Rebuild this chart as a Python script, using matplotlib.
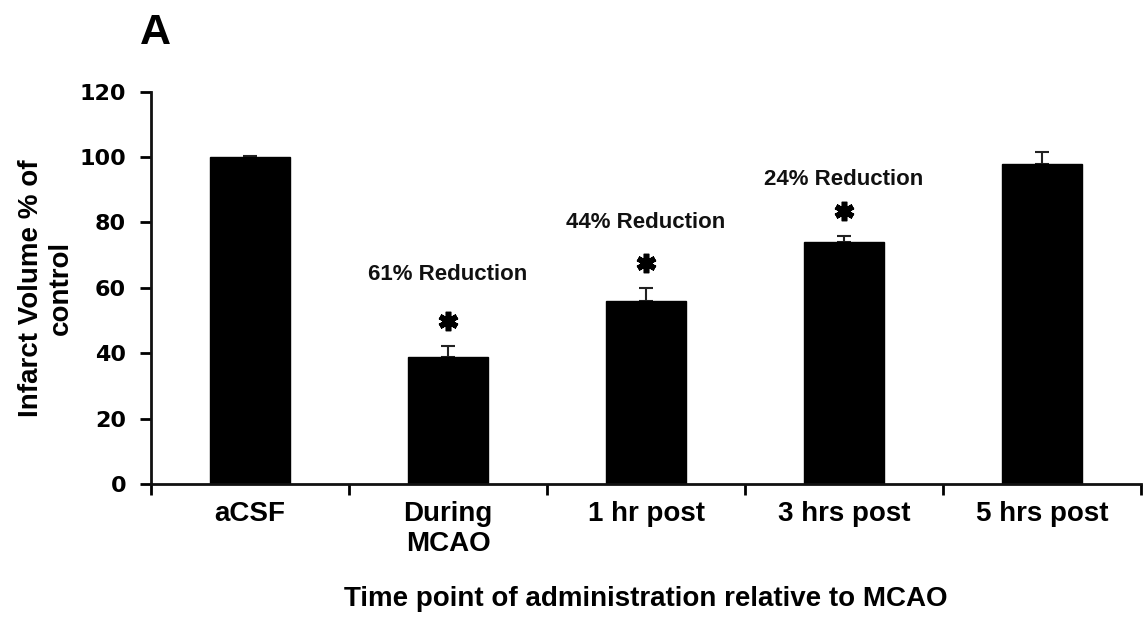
import matplotlib
matplotlib.use("Agg")
import matplotlib.pyplot as plt
import numpy as np

# values
groups = ["aCSF", "During\nMCAO", "1 hr post", "3 hrs post", "5 hrs post"]
infarct = [100, 39, 56, 74, 98]
sem = [0.3, 3.3, 4.0, 2.0, 3.6]
signif = [False, True, True, True, False]
reduction_labels = ["61% Reduction", "44% Reduction", "24% Reduction"]
reduction_groups = [1, 2, 3]
reduction_y = [64, 80, 93]

arial = "Liberation Sans"
verdana = "DejaVu Sans"

fig = plt.figure(figsize=(11.43, 6.2), dpi=100)
ax = fig.add_axes([151 / 1143, 1 - 484 / 620, 990 / 1143, 392.3 / 620])

x = np.arange(len(groups))
ax.bar(x, infarct, width=0.4, color="black", edgecolor="black", zorder=2)
ax.errorbar(x, infarct, yerr=[np.zeros(len(sem)), sem], fmt="none",
            ecolor="#222222", elinewidth=1.5, capsize=5, capthick=1.5, zorder=1)

# asterisks above the significant bars
for i in range(len(groups)):
    if signif[i]:
        ax.plot(x[i], infarct[i] + sem[i] + 7.5, marker=(6, 2, 0), ms=14,
                mew=4, color="black", zorder=3)

for lab, g, yy in zip(reduction_labels, reduction_groups, reduction_y):
    ax.text(g, yy, lab, ha="center", va="center", fontsize=16,
            fontweight="bold", family=arial, color="#111111")

ax.set_xlim(-0.5, len(groups) - 0.5)
ax.set_ylim(0, 120)
ax.set_yticks(np.arange(0, 121, 20))
ax.set_xticks(x)
ax.set_xticklabels(groups, fontsize=20, fontweight="bold", family=arial)
ax.set_xticks(np.arange(-0.5, len(groups), 1), minor=True)
ax.tick_params(axis="x", which="major", length=0, pad=12)
ax.tick_params(axis="x", which="minor", length=8, width=2, direction="out")
ax.tick_params(axis="y", length=8, width=2, direction="out", pad=10)
for t in ax.get_yticklabels():
    t.set_fontsize(16)
    t.set_fontweight("bold")
    t.set_family(verdana)

for s in ["top", "right"]:
    ax.spines[s].set_visible(False)
for s in ["left", "bottom"]:
    ax.spines[s].set_linewidth(2)
    ax.spines[s].set_color("#111111")

ax.set_ylabel("Infarct Volume % of\ncontrol", fontsize=20, fontweight="bold",
              family=arial, va="center", ha="center", multialignment="center")
ax.yaxis.set_label_coords(-0.106, 0.5)
ax.set_xlabel("Time point of administration relative to MCAO", fontsize=20,
              fontweight="bold", family=arial, va="center")
ax.xaxis.set_label_coords(0.5, -0.293)

fig.text(155 / 1143, 1 - 33 / 620, "A", fontsize=31, fontweight="bold",
         family=arial, ha="center", va="center")

fig.savefig("out.png", dpi=100)
